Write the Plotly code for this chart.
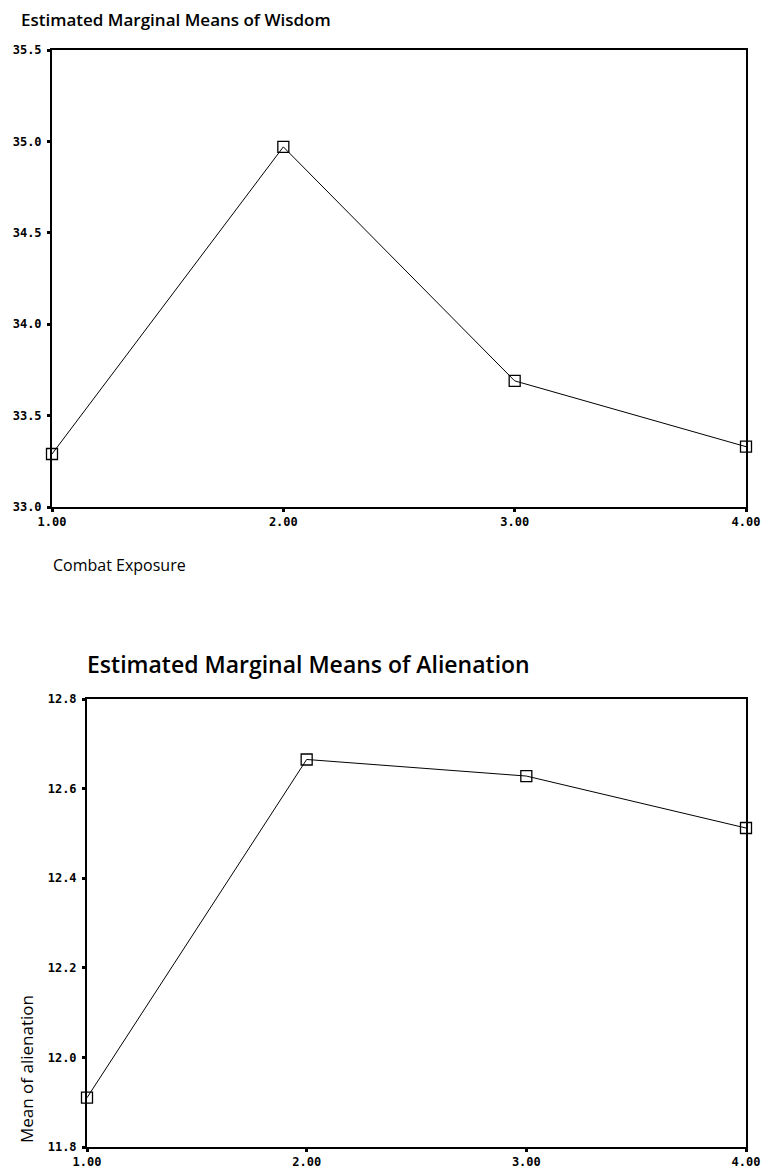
import plotly.graph_objects as go

combat_exposure = [1, 2, 3, 4]
tick_labels = ["1.00", "2.00", "3.00", "4.00"]
wisdom_means = [33.29, 34.97, 33.69, 33.33]
alienation_means = [11.91, 12.665, 12.628, 12.512]

wisdom_ticks = [33.0, 33.5, 34.0, 34.5, 35.0, 35.5]
wisdom_tick_text = ["33.0", "33.5", "34.0", "34.5", "35.0", "35.5"]
alien_ticks = [11.8, 12.0, 12.2, 12.4, 12.6, 12.8]
alien_tick_text = ["11.8", "12.0", "12.2", "12.4", "12.6", "12.8"]

W, H = 761, 1171


def px(x):
    return x / W


def py(y):
    return 1 - y / H


fig = go.Figure()

line_style = dict(color="black", width=1)
marker_style = dict(symbol="square-open", size=11, color="black", line=dict(width=1.3, color="black"))

fig.add_trace(go.Scatter(x=combat_exposure, y=wisdom_means, mode="lines+markers",
                         line=line_style, marker=marker_style, cliponaxis=False,
                         xaxis="x", yaxis="y", showlegend=False))
fig.add_trace(go.Scatter(x=combat_exposure, y=alienation_means, mode="lines+markers",
                         line=line_style, marker=marker_style, cliponaxis=False,
                         xaxis="x2", yaxis="y2", showlegend=False))

tick_font = dict(family="DejaVu Sans Mono", size=12, color="black", weight="bold")
axis_common = dict(showline=True, mirror=True, linecolor="black", linewidth=2,
                   showgrid=False, zeroline=False, ticks="outside", ticklen=3,
                   tickwidth=3, tickcolor="black", tickfont=tick_font, automargin=False)

fig.update_layout(
    template="none",
    width=W, height=H,
    margin=dict(l=0, r=0, t=0, b=0, pad=0),
    paper_bgcolor="white", plot_bgcolor="white",
    xaxis=dict(domain=[px(52), px(746)], range=[1, 4], tickvals=combat_exposure,
               ticktext=tick_labels, anchor="y", **axis_common),
    yaxis=dict(domain=[py(507), py(50)], range=[33.0, 35.5], tickvals=wisdom_ticks,
               ticktext=wisdom_tick_text, anchor="x", ticklabelstandoff=3, **axis_common),
    xaxis2=dict(domain=[px(87), px(746)], range=[1, 4], tickvals=combat_exposure,
                ticktext=tick_labels, anchor="y2", **axis_common),
    yaxis2=dict(domain=[py(1147), py(699)], range=[11.8, 12.8], tickvals=alien_ticks,
                ticktext=alien_tick_text, anchor="x2", ticklabelstandoff=3, **axis_common),
)

fig.add_annotation(text="Estimated Marginal Means of Wisdom", xref="paper", yref="paper",
                   x=px(19), y=py(20), xanchor="left", yanchor="middle",
                   showarrow=False, font=dict(family="Open Sans", size=17, color="black", weight=600))
fig.add_annotation(text="Estimated Marginal Means of Alienation", xref="paper", yref="paper",
                   x=px(85), y=py(664), xanchor="left", yanchor="middle",
                   showarrow=False, font=dict(family="Open Sans", size=23, color="black", weight=600))
fig.add_annotation(text="Combat Exposure", xref="paper", yref="paper",
                   x=px(51), y=py(565), xanchor="left", yanchor="middle",
                   showarrow=False, font=dict(family="Open Sans", size=16, color="black"))
fig.add_annotation(text="Mean of alienation", xref="paper", yref="paper",
                   x=px(26), y=py(1069), xanchor="center", yanchor="middle", textangle=-90,
                   showarrow=False, font=dict(family="Open Sans", size=17, color="black"))

# remove the default page margin so the figure fills the window exactly
fig.write_html("out.html", config={"displayModeBar": False},
               post_script="document.body.style.margin='0';document.body.style.overflow='hidden';")
